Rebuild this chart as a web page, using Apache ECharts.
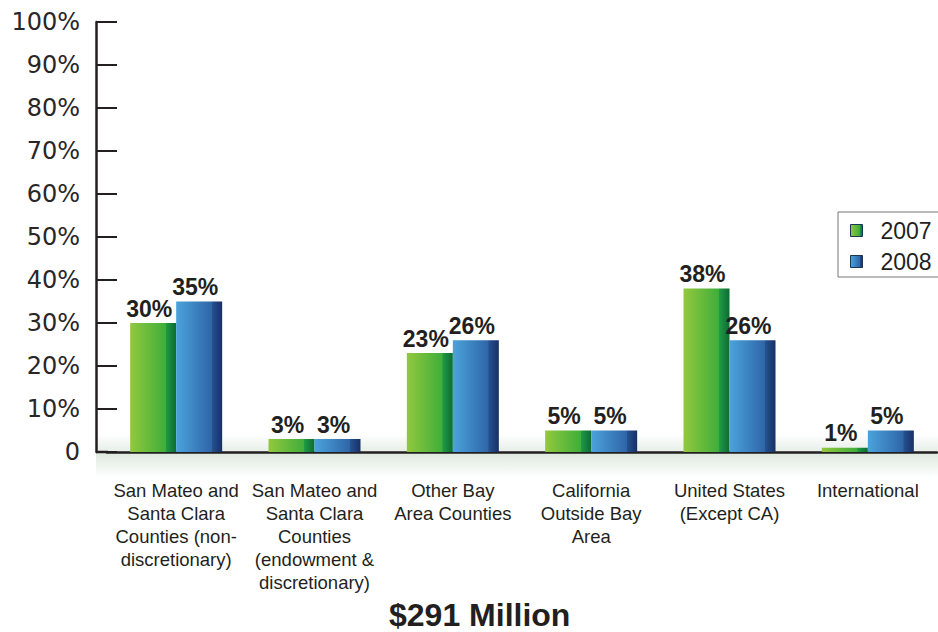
<!DOCTYPE html>
<html>
<head>
<meta charset="utf-8">
<script src="https://cdn.jsdelivr.net/npm/echarts@6/dist/echarts.min.js"></script>
<style>
  html, body { margin: 0; padding: 0; background: #fff; }
  #chart { width: 938px; height: 632px; }
</style>
</head>
<body>
<div id="chart"></div>
<script>
var categories = [
	'San Mateo and\nSanta Clara\nCounties (non-\ndiscretionary)',
	'San Mateo and\nSanta Clara\nCounties\n(endowment &\ndiscretionary)',
	'Other Bay\nArea Counties',
	'California\nOutside Bay\nArea',
	'United States\n(Except CA)',
	'International'
];
var values2007 = [30, 3, 23, 5, 38, 1];
var values2008 = [35, 3, 26, 5, 26, 5];
var yTicks = [0, 10, 20, 30, 40, 50, 60, 70, 80, 90, 100];

// front face + darker side face in one horizontal gradient
function faceColor(l1, l2, s1, s2){
	return new echarts.graphic.LinearGradient(0, 0, 1, 0, [
		{offset: 0, color: l1},
		{offset: 0.77, color: l2},
		{offset: 0.78, color: s1},
		{offset: 1, color: s2}
	]);
}

var labelStyle = {
	show: true,
	position: 'top',
	distance: 3,
	offset: [-4, 0],
	formatter: '{c}%',
	fontFamily: 'Liberation Sans, Arial',
	fontWeight: 'bold',
	fontSize: 23,
	color: '#231f20'
};

var myChart = echarts.init(document.getElementById('chart'), null, {renderer: 'svg'});
var option = {
	animation: false,
	title: {
		text: '$291 Million',
		left: 384,
		top: 594,
		textStyle: {
			fontFamily: 'Liberation Sans, Arial',
			fontWeight: 'bold',
			fontSize: 32,
			color: '#231f20'
		}
	},
	legend: {
		orient: 'vertical',
		left: 838,
		top: 212,
		padding: [7, 8, 4, 12],
		borderColor: '#777',
		borderWidth: 1,
		itemWidth: 12,
		itemHeight: 12,
		itemGap: 8,
		icon: 'rect',
		itemStyle: {borderColor: '#1c3553', borderWidth: 1},
		textStyle: {
			fontFamily: 'Liberation Sans, Arial',
			fontSize: 23,
			color: '#231f20',
			padding: [0, 0, 0, 13]
		},
		data: ['2007', '2008']
	},
	graphic: [
		{
			type: 'rect',
			z: -1,
			shape: {x: 96, y: 434, width: 842, height: 18},
			style: {
				fill: new echarts.graphic.LinearGradient(0, 0, 0, 1, [
					{offset: 0, color: '#ffffff'},
					{offset: 1, color: '#e6eee7'}
				])
			}
		},
		{
			type: 'rect',
			z: -1,
			shape: {x: 96, y: 452, width: 842, height: 26},
			style: {
				fill: new echarts.graphic.LinearGradient(0, 0, 0, 1, [
					{offset: 0, color: '#dde8de'},
					{offset: 1, color: '#ffffff'}
				])
			}
		},
		{
			type: 'line',
			shape: {x1: 96, y1: 452, x2: 108, y2: 452},
			style: {stroke: '#231f20', lineWidth: 2.5}
		}
	],
	grid: {
		left: 107,
		right: 1,
		top: 22,
		bottom: 180
	},
	xAxis: {
		type: 'category',
		data: categories,
		axisLine: {lineStyle: {color: '#231f20', width: 2.5}},
		axisTick: {show: false},
		axisLabel: {
			margin: 27,
			interval: 0,
			fontFamily: 'Liberation Sans, Arial',
			fontSize: 18.5,
			lineHeight: 23,
			color: '#231f20'
		}
	},
	yAxis: {
		type: 'value',
		min: 0,
		max: 100,
		interval: 10,
		offset: 11,
		axisLine: {show: true, lineStyle: {color: '#231f20', width: 2.5}},
		axisTick: {show: true, inside: true, length: 21, lineStyle: {color: '#231f20', width: 2}},
		splitLine: {show: false},
		axisLabel: {
			margin: 16,
			fontFamily: 'DejaVu Sans',
			fontSize: 24,
			color: '#2a2627',
			formatter: function(v){
				return yTicks.indexOf(v) === 0 ? '0' : v + '%';
			}
		}
	},
	series: [
		{
			name: '2007',
			type: 'bar',
			barWidth: 46,
			barGap: '0%',
			data: values2007,
			label: labelStyle,
			itemStyle: {
				color: faceColor('#93c83e', '#3fae3a', '#1f9a45', '#0d6b32')
			}
		},
		{
			name: '2008',
			type: 'bar',
			barWidth: 46,
			barGap: '0%',
			data: values2008,
			label: labelStyle,
			itemStyle: {
				color: faceColor('#4ba3dc', '#2f66a8', '#24528f', '#182f66')
			}
		}
	]
};
myChart.setOption(option);
</script>
</body>
</html>
